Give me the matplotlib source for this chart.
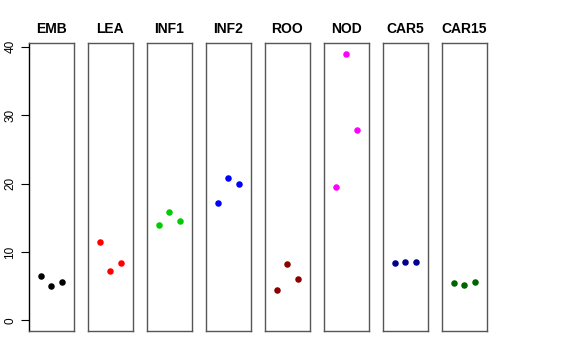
import matplotlib
matplotlib.use("Agg")
import matplotlib.pyplot as plt

plt.rcParams['font.family'] = ['Liberation Sans', 'DejaVu Sans']

tissues = ["EMB", "LEA", "INF1", "INF2", "ROO", "NOD", "CAR5", "CAR15"]
colors = ["black", "red", "#00CD00", "blue", "#8B0000", "magenta", "#00008B", "#006400"]
values = {
    "EMB":   [6.5, 5.0, 5.6],
    "LEA":   [11.4, 7.2, 8.4],
    "INF1":  [14.0, 15.8, 14.5],
    "INF2":  [17.1, 20.8, 19.9],
    "ROO":   [4.4, 8.2, 6.1],
    "NOD":   [19.5, 39.0, 27.8],
    "CAR5":  [8.4, 8.5, 8.5],
    "CAR15": [5.4, 5.2, 5.65],
}
reps = [1, 2, 3]
yticks = [0, 10, 20, 30, 40]

W, H = 576, 360
fig = plt.figure(figsize=(W / 100, H / 100), dpi=100)

ymax = max(max(v) for v in values.values())
ext = 0.04 * ymax
left0, step, width = 29, 59, 44.5
top, bottom = 43, 331

for i, (name, col) in enumerate(zip(tissues, colors)):
    ax = fig.add_axes([(left0 + i * step) / W, (H - bottom) / H,
                       width / W, (bottom - top) / H])
    ax.scatter(reps, values[name], s=22, color=col, zorder=3, linewidths=0)
    ax.set_xlim(0 - 0.16, 4 + 0.16)
    ax.set_ylim(0 - ext, ymax + ext)
    ax.set_xticks([])
    for sp in ax.spines.values():
        sp.set_color("#555555")
        sp.set_linewidth(1.0)
    ax.set_title(name, fontsize=10, fontweight="bold", pad=7)
    if i == 0:
        ax.set_yticks(yticks)
        ax.set_yticklabels([str(t) for t in yticks], rotation=90, va="center",
                           fontsize=8.5)
        ax.tick_params(axis="y", length=6, width=0.8, pad=3)
        ax.spines["left"].set_color("black")
    else:
        ax.set_yticks([])

fig.savefig("out.png", dpi=100)
